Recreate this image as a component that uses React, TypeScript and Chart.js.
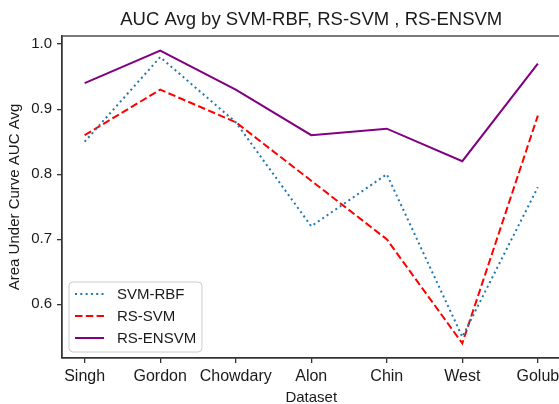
import React, { useEffect, useRef } from "react";
import { Chart, registerables } from "chart.js";

Chart.register(...registerables);

const categories = ["Singh", "Gordon", "Chowdary", "Alon", "Chin", "West", "Golub"];
const svmRbf = [0.85, 0.98, 0.88, 0.72, 0.80, 0.55, 0.78];
const rsSvm = [0.86, 0.93, 0.88, 0.79, 0.70, 0.54, 0.89];
const rsEnsvm = [0.94, 0.99, 0.93, 0.86, 0.87, 0.82, 0.97];
const yTicks = [0.6, 0.7, 0.8, 0.9, 1.0];
const seriesNames = ["SVM-RBF", "RS-SVM", "RS-ENSVM"];

const FONT = "'Liberation Sans', Arial, sans-serif";
const TEXT = "#1a1a1a";

const toPoints = (arr: number[]) => arr.map((v, i) => ({ x: i, y: v }));

const framePlugin = {
  id: "frame",
  afterDraw(chart: any) {
    const { ctx, chartArea } = chart;
    ctx.save();
    ctx.strokeStyle = "#333";
    ctx.lineWidth = 1.3;
    ctx.strokeRect(chartArea.left, chartArea.top, chartArea.right - chartArea.left, chartArea.bottom - chartArea.top);
    // title centered on axes
    ctx.fillStyle = TEXT;
    ctx.font = `18.5px ${FONT}`;
    ctx.textAlign = "center";
    ctx.textBaseline = "middle";
    ctx.fillText("AUC Avg by SVM-RBF, RS-SVM , RS-ENSVM", (chartArea.left + chartArea.right) / 2, 20);
    // legend
    const x0 = chartArea.left + 7;
    const w = 133;
    const h = 70;
    const y0 = chartArea.bottom - 6 - h;
    ctx.beginPath();
    const r = 4;
    ctx.moveTo(x0 + r, y0);
    ctx.lineTo(x0 + w - r, y0);
    ctx.arcTo(x0 + w, y0, x0 + w, y0 + r, r);
    ctx.lineTo(x0 + w, y0 + h - r);
    ctx.arcTo(x0 + w, y0 + h, x0 + w - r, y0 + h, r);
    ctx.lineTo(x0 + r, y0 + h);
    ctx.arcTo(x0, y0 + h, x0, y0 + h - r, r);
    ctx.lineTo(x0, y0 + r);
    ctx.arcTo(x0, y0, x0 + r, y0, r);
    ctx.closePath();
    ctx.fillStyle = "rgba(255,255,255,0.8)";
    ctx.fill();
    ctx.strokeStyle = "#cccccc";
    ctx.lineWidth = 1;
    ctx.stroke();
    chart.data.datasets.forEach((ds: any, i: number) => {
      const yy = y0 + 12 + i * 22;
      ctx.beginPath();
      ctx.setLineDash(ds.borderDash || []);
      ctx.strokeStyle = ds.borderColor;
      ctx.lineWidth = ds.borderWidth;
      ctx.lineCap = "butt";
      ctx.moveTo(x0 + 6, yy);
      ctx.lineTo(x0 + 35, yy);
      ctx.stroke();
      ctx.setLineDash([]);
      ctx.fillStyle = TEXT;
      ctx.font = `15px ${FONT}`;
      ctx.textAlign = "left";
      ctx.textBaseline = "middle";
      ctx.fillText(ds.label, x0 + 48, yy + 1);
    });
    ctx.restore();
  },
};

export default function App() {
  const ref = useRef<HTMLCanvasElement | null>(null);
  useEffect(() => {
    if (!ref.current) return;
    const chart = new Chart(ref.current, {
      type: "line",
      data: {
        datasets: [
          {
            label: seriesNames[0],
            data: toPoints(svmRbf),
            borderColor: "#1f77b4",
            borderWidth: 2,
            borderDash: [2, 3.3],
            pointRadius: 0,
            tension: 0,
          },
          {
            label: seriesNames[1],
            data: toPoints(rsSvm),
            borderColor: "#ff0000",
            borderWidth: 2,
            borderDash: [7.5, 3.3],
            pointRadius: 0,
            tension: 0,
          },
          {
            label: seriesNames[2],
            data: toPoints(rsEnsvm),
            borderColor: "#800080",
            borderWidth: 2,
            pointRadius: 0,
            tension: 0,
          },
        ],
      },
      options: {
        responsive: false,
        animation: false,
        devicePixelRatio: 1,
        layout: { padding: { top: 36, left: 0, right: 14.5, bottom: 0 } },
        plugins: {
          legend: { display: false },
          title: { display: false },
          tooltip: { enabled: false },
        },
        scales: {
          x: {
            type: "linear",
            min: -0.3,
            max: 6.3,
            afterBuildTicks: (scale: any) => {
              scale.ticks = categories.map((_, i) => ({ value: i }));
            },
            afterFit: (scale: any) => {
              scale.height = 46;
            },
            ticks: {
              callback: (v: any) => categories[Math.round(Number(v))] ?? "",
              font: { family: FONT, size: 16 },
              color: TEXT,
              padding: 4,
              maxRotation: 0,
              autoSkip: false,
            },
            grid: { drawOnChartArea: false, drawTicks: true, tickLength: 5, color: "#333", lineWidth: 1.3 },
            border: { display: true, color: "#333", width: 1.3 },
            title: {
              display: true,
              text: "Dataset",
              font: { family: FONT, size: 15, lineHeight: 0.8 },
              color: TEXT,
              padding: { top: 0, bottom: 0 },
            },
          },
          y: {
            type: "linear",
            min: 0.5175,
            max: 1.0125,
            afterBuildTicks: (scale: any) => {
              scale.ticks = yTicks.map((v) => ({ value: v }));
            },
            afterFit: (scale: any) => {
              scale.width = 62;
            },
            ticks: {
              callback: (v: any) => Number(v).toFixed(1),
              font: { family: FONT, size: 15 },
              color: TEXT,
              padding: 5,
            },
            grid: { drawOnChartArea: false, drawTicks: true, tickLength: 5, color: "#333", lineWidth: 1.3 },
            border: { display: true, color: "#333", width: 1.3 },
            title: {
              display: true,
              text: "Area Under Curve AUC Avg",
              font: { family: FONT, size: 15 },
              color: TEXT,
              padding: { top: 6, bottom: 0 },
            },
          },
        },
      },
      plugins: [framePlugin],
    } as any);
    return () => chart.destroy();
  }, []);
  return (
    <div style={{ position: "fixed", left: 0, top: 0, width: 559, height: 404, overflow: "hidden", background: "#fff" }}>
      <canvas ref={ref} width={575} height={404} style={{ display: "block" }} />
    </div>
  );
}
